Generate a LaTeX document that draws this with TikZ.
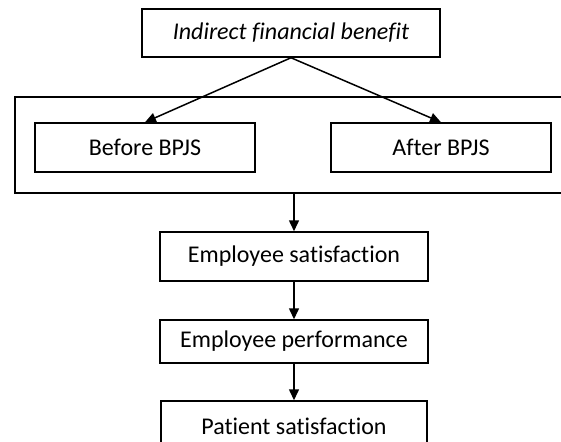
\documentclass[tikz,border=0pt]{standalone}
\usepackage{fontspec}
\setmainfont{Carlito}[Ligatures=NoCommon]
\usetikzlibrary{arrows.meta}

\begin{document}
\begin{tikzpicture}[x=1pt,y=1pt,
    box/.style={draw, line width=1.5pt, inner sep=0pt, minimum height=48pt,
                font=\fontsize{24}{28}\selectfont},
    arr/.style={line width=1.5pt, -{Triangle[length=11pt,width=10pt]}}]
                \useasboundingbox (0,0) rectangle (561,-441);
                % Group of the two periods
                \node[box, minimum width=560pt, minimum height=96pt] (grp) at (295,-145) {};
                \node[box, minimum width=298pt] (ifb) at (291,-33) {\itshape Indirect financial benefit};
                \node[box, minimum width=220pt, minimum height=49pt] (bef) at (145,-147.5) {Before BPJS};
                \node[box, minimum width=220pt, minimum height=49pt] (aft) at (441,-147.5) {After BPJS};
                % Chain of effects
                \node[box, minimum width=268pt, minimum height=49pt] (esat) at (294,-256.5) {Employee satisfaction};
                \node[box, minimum width=268pt, minimum height=43pt] (eperf) at (294,-341.5) {Employee performance};
                \node[box, minimum width=266pt, minimum height=50pt] (psat) at (294,-426) {Patient satisfaction};
                \draw[arr] (ifb.south) -- (bef.north);
                \draw[arr] (ifb.south) -- (aft.north);
                \draw[arr] (esat.north |- grp.south) -- (esat.north);
                \draw[arr] (esat.south) -- (eperf.north);
                \draw[arr] (eperf.south) -- (psat.north);
            \end{tikzpicture}
\end{document}
